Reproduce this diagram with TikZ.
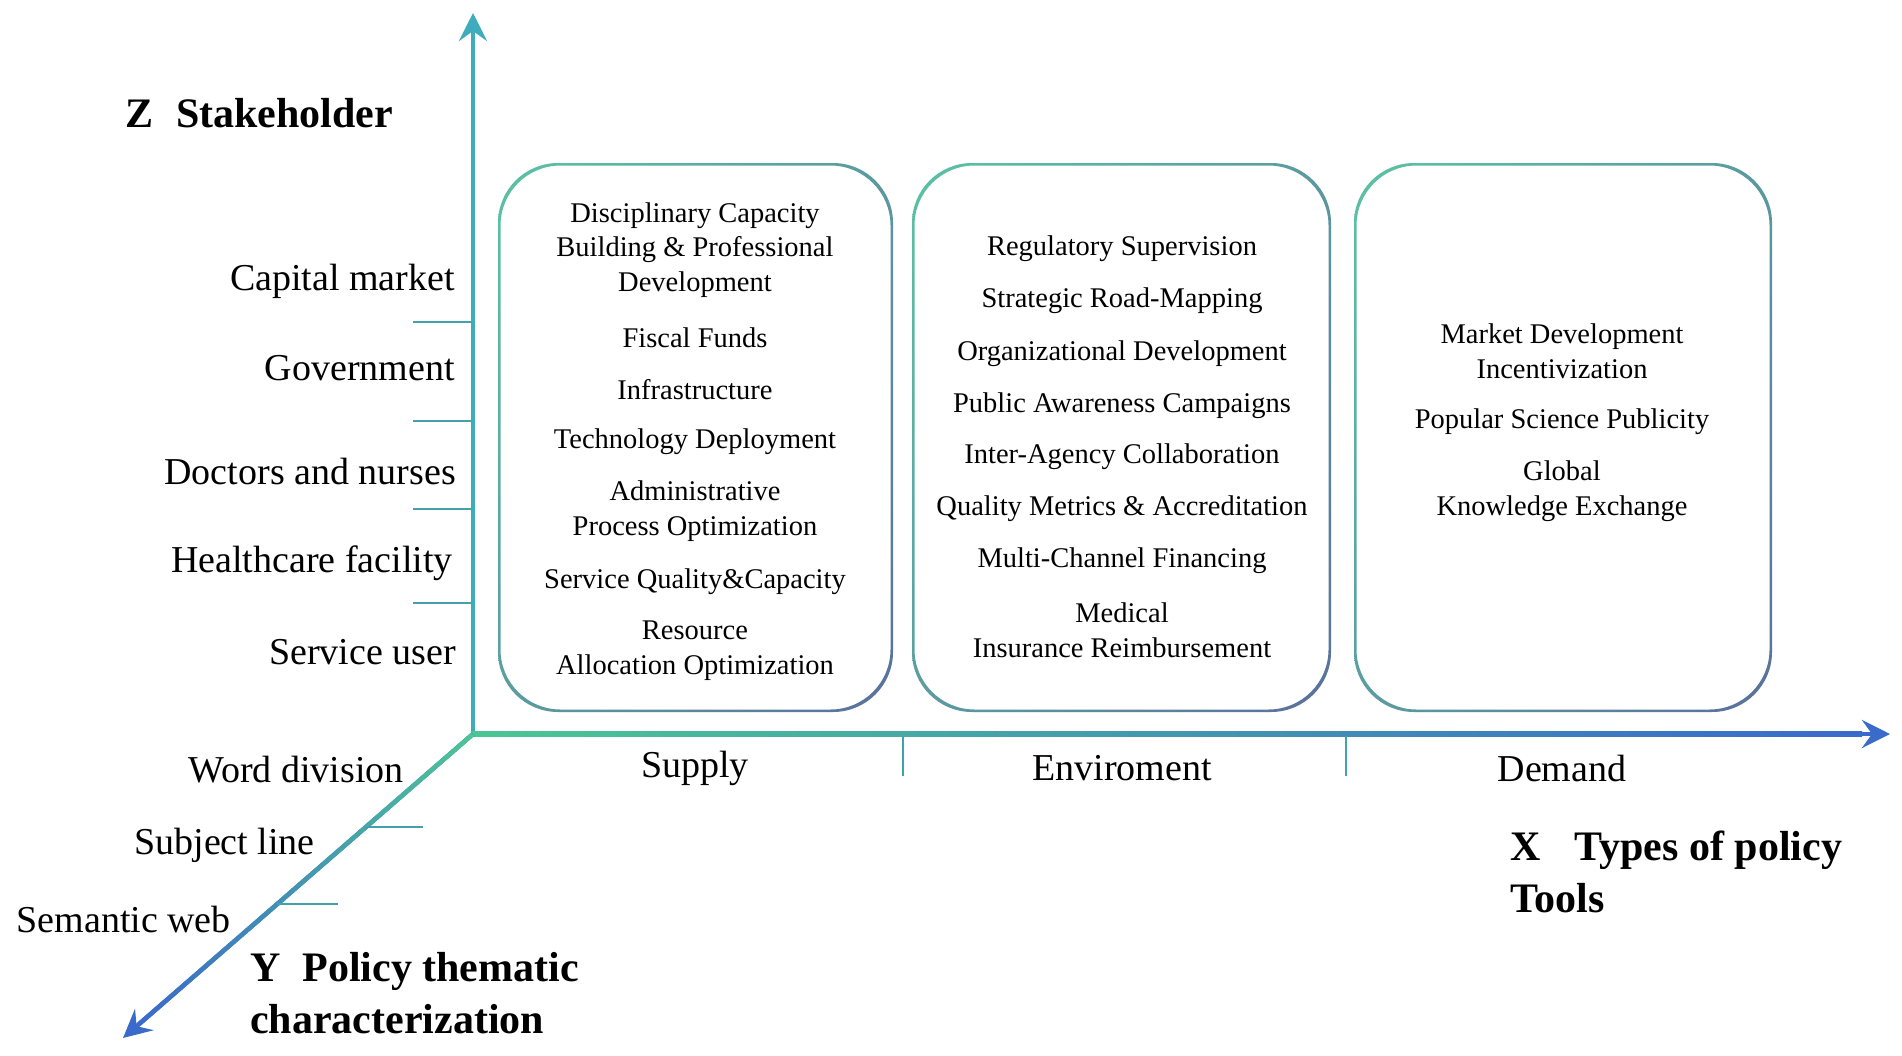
\documentclass[tikz,border=0pt]{standalone}
\usepackage{fontspec}
\setmainfont{Liberation Serif}
\usetikzlibrary{arrows.meta,calc,shadings}

\definecolor{zteal}{RGB}{62,172,188}
\definecolor{axgreen}{RGB}{76,198,148}
\definecolor{axblue}{RGB}{58,106,202}
\definecolor{boxgreen}{RGB}{92,194,163}
\definecolor{boxblue}{RGB}{90,112,156}
\definecolor{tickteal}{RGB}{66,162,172}

\begin{document}
\begin{tikzpicture}[
  x=1pt,y=-1pt,
  axis/.style={line width=4.5pt,-{Stealth[length=28pt,width=28pt,inset=10pt]}},
  tick/.style={line width=2.5pt,tickteal},
  lbl/.style={font=\fontsize{38}{44}\selectfont,inner sep=0pt},
  ttl/.style={font=\fontsize{42}{52}\selectfont\bfseries,inner sep=0pt,align=left,anchor=west},
  item/.style={font=\fontsize{28.5}{34.8}\selectfont,align=center,inner sep=0pt},
  % Gradient rim: an outer and an inner rounded rectangle, filled even-odd.
  panel/.style={upper left=boxgreen,upper right=boxgreen!50!boxblue,
    lower left=boxgreen!55!boxblue,lower right=boxblue,
    even odd rule,rounded corners=60pt},
]
\useasboundingbox[fill=white] (0,0) rectangle (1902,1055);

%--- geometry ----------------------------------------------------------------
\def\panT{163}       % top of the three panels
\def\panB{712}       % bottom of the three panels
\def\rim{2.5}        % width of a panel rim
\def\supx{695}       % centre line of the supply panel
\def\envx{1122}      % centre line of the environment panel
\def\demx{1562}      % centre line of the demand panel

\coordinate (O)    at (473,734);
\coordinate (Ztip) at (473,13);
\coordinate (Xtip) at (1890,734);
\coordinate (Ytip) at (123,1038);
\coordinate (Yend) at ($(Ytip)!22pt!(O)$);

%--- panels ------------------------------------------------------------------
\foreach \l/\r in {498/893,912/1331,1354/1772}
  \shade[panel] (\l,\panT) rectangle (\r,\panB)
    (\l+\rim,\panT+\rim) rectangle (\r-\rim,\panB-\rim);

%--- axes --------------------------------------------------------------------
\draw[axis,zteal] (473,736.25) -- (Ztip);

% X and Y: the solid arrow first, then a shaded shaft laid over it.
\draw[axis,axblue] (O) -- (Xtip);
\shade[left color=axgreen,right color=axblue] (470.75,731.75) rectangle (1862,736.25);

\draw[axis,axblue] (O) -- (Ytip);
\shade[left color=axblue,right color=axgreen]
  ($(O)!2.25pt!90:(Ytip)$) -- ($(Yend)!2.25pt!-90:(O)$)
  -- ($(Yend)!2.25pt!90:(O)$) -- ($(O)!2.25pt!-90:(Ytip)$) -- cycle;

% ticks
\foreach \y in {322,421,509,603}
  \draw[tick] (413,\y) -- (472,\y);
\foreach \x in {903,1346}
  \draw[tick] (\x,736) -- (\x,776);
\draw[tick] (366,827) -- (423,827);
\draw[tick] (277,904) -- (338,904);

%--- axis labels -------------------------------------------------------------
\node[ttl] (ztitle) at (125,113) {Z\hspace{23pt}Stakeholder};
\node[lbl,anchor=east] (zcap)  at (455,281) {Capital market};
\node[lbl,anchor=east] (zgov)  at (455,368) {Government};
\node[lbl,anchor=east] (zdoc)  at (456,471) {Doctors and nurses};
\node[lbl,anchor=east] (zhosp) at (453,563) {Healthcare facility};
\node[lbl,anchor=east] (zuser) at (456,652) {Service user};

\node[lbl,anchor=east] (yword) at (404,770) {Word division};
\node[lbl,anchor=east] (ysubj) at (315,845) {Subject line};
\node[lbl,anchor=east] (ysem)  at (231,919) {Semantic web};
\node[ttl] (ytitle) at (250,993) {Y\hspace{22pt}Policy thematic\\characterization};

\node[lbl] (xsup) at (\supx,768) {Supply};
\node[lbl] (xenv) at (\envx,768) {Enviroment};
\node[lbl] (xdem) at (\demx,768) {Demand};
\node[ttl] (xtitle) at (1510,872) {X\hspace{34pt}Types of policy\\Tools};

%--- supply panel ------------------------------------------------------------
\node[item] (sup1) at (\supx,250) {Disciplinary Capacity\\Building \& Professional\\Development};
\node[item] (sup2) at (\supx,338) {Fiscal Funds};
\node[item] (sup3) at (\supx,390) {Infrastructure};
\node[item] (sup4) at (\supx,442) {Technology Deployment};
\node[item] (sup5) at (\supx,511) {Administrative\\Process Optimization};
\node[item] (sup6) at (\supx,582) {Service Quality\&Capacity};
\node[item] (sup7) at (\supx,651) {Resource\\Allocation Optimization};

%--- environment panel -------------------------------------------------------
\node[item] (env1) at (\envx,249) {Regulatory Supervision};
\node[item] (env2) at (\envx,301) {Strategic Road-Mapping};
\node[item] (env3) at (\envx,354) {Organizational Development};
\node[item] (env4) at (\envx,406) {Public Awareness Campaigns};
\node[item] (env5) at (\envx,457) {Inter-Agency Collaboration};
\node[item] (env6) at (\envx,509) {Quality Metrics \& Accreditation};
\node[item] (env7) at (\envx,561) {Multi-Channel Financing};
\node[item] (env8) at (\envx,630) {Medical\\Insurance Reimbursement};

%--- demand panel ------------------------------------------------------------
\node[item] (dem1) at (\demx,351) {Market Development\\Incentivization};
\node[item] (dem2) at (\demx,421.5) {Popular Science Publicity};
\node[item] (dem3) at (\demx,491) {Global\\Knowledge Exchange};

\end{tikzpicture}
\end{document}
